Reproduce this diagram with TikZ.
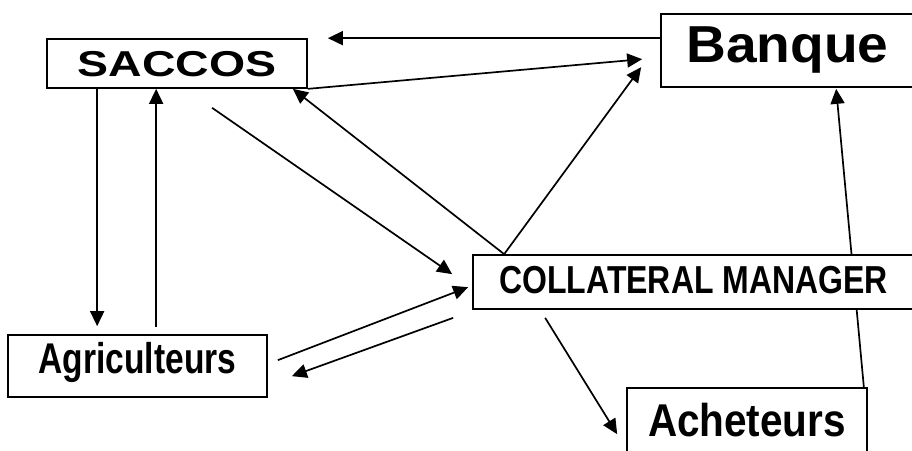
\documentclass[tikz,border=0pt]{standalone}
\usepackage{fontspec}
\setmainfont{Liberation Sans}
\usetikzlibrary{positioning, calc, arrows.meta}
\newcommand{\squeeze}[2]{\scalebox{#1}[1]{#2}}

\begin{document}
\begin{tikzpicture}[x=1pt, y=-1pt,
    box/.style={draw, line width=1.7pt, fill=white, inner sep=0pt},
    arr/.style={line width=1.7pt, -{Triangle[length=15pt, width=14pt]}},
  ]
  \useasboundingbox (0,0) rectangle (912,450);
  % actors
  \node[box, minimum width=260pt, minimum height=49pt, text height=26pt, text depth=0pt,
        font=\bfseries\fontsize{36}{36}\selectfont] (saccos) at (177,63.5) {\squeeze{1.29}{SACCOS}\hspace{6pt}};
  \node[box, minimum width=253pt, minimum height=73pt, text height=37pt, text depth=14pt,
        font=\bfseries\fontsize{52}{52}\selectfont] (banque) at (787.5,50.5) {\squeeze{1.06}{Banque}\hspace{6pt}};
  \node[box, minimum width=259pt, minimum height=62pt, text height=31pt, text depth=17pt,
        font=\bfseries\fontsize{43}{43}\selectfont] (agri) at (137.5,366) {\squeeze{0.78}{Agriculteurs}\hspace{12pt}};
  \node[box, minimum width=240pt, minimum height=66pt, text height=33pt, text depth=3pt,
        font=\bfseries\fontsize{46}{46}\selectfont] (achet) at (747,421) {\squeeze{0.88}{Acheteurs}};
  % runs behind the manager box
  \draw[arr] ($(achet.north east)+(-4,0)$) -- ($(banque.south west)+(176,1)$);
  \node[box, minimum width=441pt, minimum height=54pt, text height=28pt, text depth=6pt,
        font=\bfseries\fontsize{39}{39}\selectfont] (cm) at (693.5,282) {\squeeze{0.82}{COLLATERAL MANAGER}};
  % flows at the top
  \draw[arr] ($(banque.north west)+(0,25)$) -- ($(saccos.north east)+(20,0)$);
  \draw[arr] (saccos.south east) -- ($(banque.north west)+(-18,46)$);
  \draw[arr] ($(cm.north west)+(32,0)$) -- ($(banque.north west)+(-19,54)$);
  \draw[arr] ($(cm.north west)+(32,0)$) -- ($(saccos.south east)+(-15,0)$);
  \draw[arr] ($(saccos.south west)+(166,19)$) -- ($(cm.north west)+(-20,20)$);
  % saccos and farmers
  \draw[arr] ($(saccos.south west)+(51,0)$) -- ($(agri.north west)+(90,-8)$);
  \draw[arr] ($(agri.north west)+(149,-7)$) -- ($(saccos.south west)+(110,0)$);
  % farmers and manager
  \draw[arr] ($(agri.north east)+(10,26)$) -- ($(cm.north west)+(-4,33)$);
  \draw[arr] ($(cm.south west)+(-19,8)$) -- ($(agri.north east)+(24,42)$);
  % manager to buyers
  \draw[arr] ($(cm.south west)+(73,8)$) -- ($(achet.north west)+(-9,47)$);
\end{tikzpicture}
\end{document}
